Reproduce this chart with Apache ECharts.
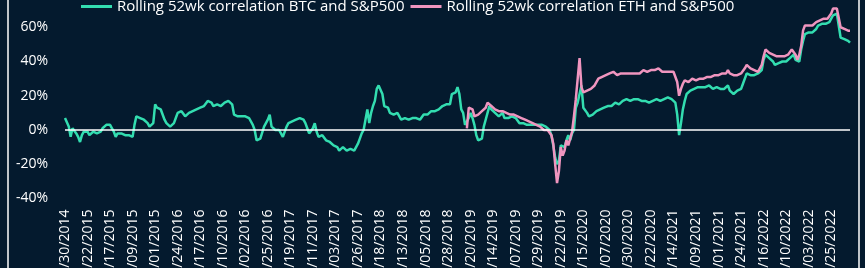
<!DOCTYPE html>
<html><head><meta charset="utf-8">
<script src="https://cdn.jsdelivr.net/npm/echarts@6/dist/echarts.min.js"></script>
<style>html,body{margin:0;padding:0;background:#041a2e;}#c{width:865px;height:268px;}</style>
</head><body><div id="c"></div>
<script>
// weekly points starting 11/30/2014; a tick label every 12 weeks
const tickLabels = ["11/30/2014","02/22/2015","05/17/2015","08/09/2015","11/01/2015","01/24/2016","04/17/2016","07/10/2016","10/02/2016","12/25/2016","03/19/2017","06/11/2017","09/03/2017","11/26/2017","02/18/2018","05/13/2018","08/05/2018","10/28/2018","01/20/2019","04/14/2019","07/07/2019","09/29/2019","12/22/2019","03/15/2020","06/07/2020","08/30/2020","11/22/2020","02/14/2021","05/09/2021","08/01/2021","10/24/2021","01/16/2022","04/10/2022","07/03/2022","09/25/2022"];
const seriesNames = ["Rolling 52wk correlation BTC and S&P500","Rolling 52wk correlation ETH and S&P500"];
const btc = [
7,6,2,-4,1,0,-2,-4,-7,-3,-1,0,-1,-3,-2,-1,-1,-2,-2,-1,
1,2,3,3,3,1,-1,-4,-2,-1,-2,-2,-3,-3,-3,-4,-4,3,8,7,
7,6,6,5,4,2,1,4,15,13,12,12,11,6,4,3,2,3,4,7,
10,10,11,10,8,8,10,10,11,12,12,13,13,14,14,15,17,17,16,14,
14,15,15,14,15,16,17,17,17,15,9,8,8,8,8,8,8,7,7,6,
3,0,-6,-6,-5,-5,2,4,6,9,2,1,0,1,0,-2,-4,-3,2,4,
5,5,6,6,6,7,7,6,4,1,-2,-3,1,4,-1,-4,-3,-3,-4,-6,
-6,-7,-7,-9,-9,-10,-12,-11,-10,-11,-12,-11,-11,-11,-12,-11,-8,-5,-2,0,
1,12,4,10,14,17,24,26,25,21,14,15,13,10,9,9,9,10,9,6,
7,7,7,6,6,7,7,7,6,6,7,9,9,9,10,11,11,11,12,12,
13,14,14,15,14,15,21,22,22,25,21,12,10,3,5,7,10,7,3,-3,
-6,-6,-5,2,6,10,14,12,11,10,9,8,9,10,7,6,7,7,8,8,
7,6,4,4,4,4,3,3,3,4,3,3,3,3,3,2,2,2,0,-3,
-9,-16,-20,-18,-9,-8,-10,-6,-3,-6,-2,0,13,16,17,26,13,12,10,8,
8,9,10,11,11,12,12,13,14,14,13,14,15,16,15,15,15,17,18,18,
17,17,18,18,18,18,17,17,18,17,17,16,16,17,18,18,17,17,18,18,
18,19,19,18,17,16,9,-3,4,12,17,21,22,23,24,24,25,25,26,25,
25,25,26,26,25,24,24,25,25,24,24,24,25,26,23,22,21,22,23,23,
24,27,30,33,33,32,32,32,33,33,34,35,41,44,43,42,41,40,38,39,
39,40,40,40,40,41,42,43,44,41,40,40,47,52,56,56,57,57,57,58,
59,61,61,62,62,62,62,63,65,67,68,68,67,54,53,53,53,52,51
];
const ethStartWeek = 214;
const eth = [
1,13,13,12,8,8,9,10,11,12,13,16,15,14,13,12,11,11,11,11,
10,10,10,9,9,9,8,8,7,7,7,6,5,5,4,4,3,3,2,2,
1,0,0,0,0,-3,-8,-20,-31,-24,-10,-15,-12,-6,-9,-5,-1,8,18,19,
42,25,22,22,23,24,24,25,26,27,30,31,31,31,32,32,33,33,34,33,
32,32,33,33,33,32,33,33,33,34,33,33,33,34,35,35,34,34,35,35,
35,35,36,35,34,34,34,35,34,34,34,33,28,20,24,27,29,28,28,29,
30,30,29,29,30,29,30,31,31,31,31,31,32,32,32,32,33,33,33,35,
33,33,32,32,32,33,33,34,36,38,39,36,35,35,34,34,36,38,43,47,
46,45,44,44,43,43,43,43,43,43,44,44,45,47,48,44,41,44,49,58,
61,61,61,62,61,60,63,63,64,64,65,65,65,66,68,71,71,71,70,60,
59,59,59,58,58
];
const weeks = btc.map((v, i) => i);
const ethData = weeks.map(i => (i >= ethStartWeek && i - ethStartWeek < eth.length) ? eth[i - ethStartWeek] : null);

const font = "'Open Sans', sans-serif";
const chart = echarts.init(document.getElementById('c'), null, {renderer: 'canvas'});
chart.setOption({
  backgroundColor: '#041a2e',
  animation: false,
  textStyle: {fontFamily: font},
  legend: {
    left: 81, top: -1, padding: 0, itemWidth: 31, itemHeight: 3, itemGap: 6, icon: 'rect',
    textStyle: {color: '#ffffff', fontSize: 15, fontFamily: font},
    data: seriesNames
  },
  grid: {left: 65, right: 15, top: -7, bottom: 69.5, containLabel: false, outerBoundsMode: 'none'},
  xAxis: {
    type: 'category', data: weeks, boundaryGap: false,
    axisLine: {show: false}, axisTick: {show: false}, splitLine: {show: false},
    axisLabel: {
      interval: 11, rotate: 90, margin: 11, color: '#ffffff', fontSize: 14, fontFamily: font,
      formatter: (v, idx) => tickLabels[Math.round(idx / 12)] || ''
    }
  },
  yAxis: {
    type: 'value', min: -40, max: 80, interval: 20,
    axisLine: {show: false}, axisTick: {show: false}, splitLine: {show: false},
    axisLabel: {margin: 17, color: '#ffffff', fontSize: 14, fontFamily: font, showMaxLabel: false,
      formatter: v => v + '%'}
  },
  series: [
    {name: seriesNames[0], type: 'line', data: btc, symbol: 'none', color: '#33ddb0',
     lineStyle: {width: 2.5, color: '#33ddb0'},
     markLine: {silent: true, symbol: 'none', label: {show: false},
       lineStyle: {color: '#ffffff', width: 1.5, type: 'solid'}, data: [{yAxis: 0}]}},
    {name: seriesNames[1], type: 'line', data: ethData, symbol: 'none', color: '#f095bf', connectNulls: false,
     lineStyle: {width: 2.5, color: '#f095bf'}}
  ],
  graphic: [
    {type: 'line', shape: {x1: 8, y1: 0, x2: 8, y2: 268}, style: {stroke: '#ffffff', lineWidth: 1.5}},
    {type: 'line', shape: {x1: 859, y1: 0, x2: 859, y2: 268}, style: {stroke: '#ffffff', lineWidth: 1.5}}
  ]
});
</script></body></html>
